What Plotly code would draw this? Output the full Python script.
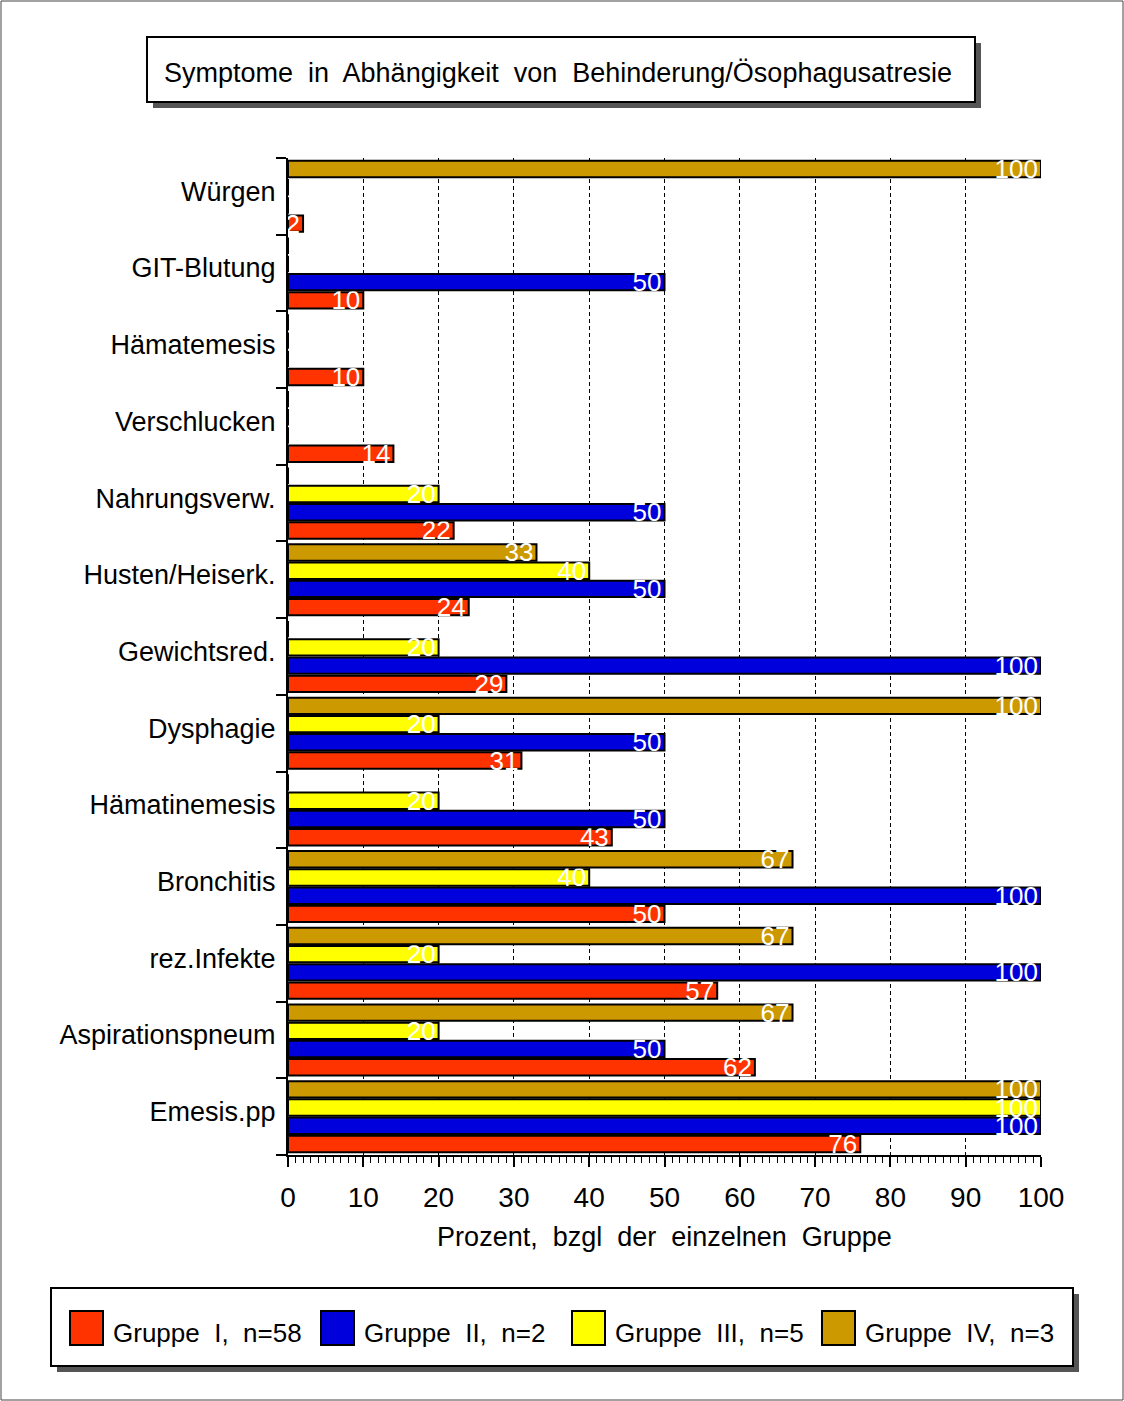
import plotly.graph_objects as go

# Symptom categories, listed bottom-to-top as they appear on the y axis
categories = [
    "Emesis.pp", "Aspirationspneum", "rez.Infekte", "Bronchitis",
    "Hämatinemesis", "Dysphagie", "Gewichtsred.", "Husten/Heiserk.",
    "Nahrungsverw.", "Verschlucken", "Hämatemesis", "GIT-Blutung", "Würgen",
]

# Percent per group (same order as categories)
gruppe_1 = [76, 62, 57, 50, 43, 31, 29, 24, 22, 14, 10, 10, 2]
gruppe_2 = [100, 50, 100, 100, 50, 50, 100, 50, 50, 0, 0, 50, 0]
gruppe_3 = [100, 20, 20, 40, 20, 20, 20, 40, 20, 0, 0, 0, 0]
gruppe_4 = [100, 67, 67, 67, 0, 100, 0, 33, 0, 0, 0, 0, 100]

series_names = ["Gruppe I, n=58", "Gruppe II, n=2", "Gruppe III, n=5", "Gruppe IV, n=3"]
series_values = [gruppe_1, gruppe_2, gruppe_3, gruppe_4]
series_colors = ["#FF3300", "#0000DD", "#FFFF00", "#CC9900"]

x_ticks = [0, 10, 20, 30, 40, 50, 60, 70, 80, 90, 100]

FONT = "Liberation Sans, Arial, Helvetica, sans-serif"

# Page geometry (pixels)
W, H = 1124, 1401
L, R, T, B = 288, 83, 158, 246
PW, PH = W - L - R, H - T - B


def fx(p):
    return (p - L) / PW


def fy(p):
    return (H - B - p) / PH


fig = go.Figure()
for name, vals, col in zip(series_names, series_values, series_colors):
    fig.add_trace(go.Bar(
        y=categories, x=vals, orientation="h", name=name,
        marker=dict(color=col, line=dict(color="black", width=2)),
        text=[str(v) if v > 0 else "" for v in vals],
        textposition="inside", insidetextanchor="end", textangle=0,
        constraintext="none", cliponaxis=True,
        textfont=dict(color="white", size=26, family=FONT),
        showlegend=False,
    ))

shapes = []
annotations = []

# Outer frame
shapes.append(dict(type="rect", xref="paper", yref="paper",
                   x0=fx(1), x1=fx(1123), y0=fy(1400), y1=fy(1),
                   line=dict(color="#444", width=1), fillcolor="rgba(0,0,0,0)"))


def boxed(x0, y0, x1, y1):
    shapes.append(dict(type="rect", xref="paper", yref="paper",
                       x0=fx(x0 + 6), x1=fx(x1 + 6), y0=fy(y1 + 6), y1=fy(y0 + 6),
                       line=dict(width=0), fillcolor="#555555"))
    shapes.append(dict(type="rect", xref="paper", yref="paper",
                       x0=fx(x0), x1=fx(x1), y0=fy(y1), y1=fy(y0),
                       line=dict(color="black", width=2), fillcolor="white"))


# Title box
boxed(147, 37, 975, 102)
annotations.append(dict(xref="paper", yref="paper", x=fx(558), y=fy(73),
                        text="Symptome  in  Abhängigkeit  von  Behinderung/Ösophagusatresie",
                        showarrow=False, xanchor="center", yanchor="middle",
                        font=dict(size=27, color="black", family=FONT)))

# Legend box
boxed(51, 1288, 1073, 1366)
legend_x = [70, 321, 572, 822]
for lx, name, col in zip(legend_x, series_names, series_colors):
    shapes.append(dict(type="rect", xref="paper", yref="paper",
                       x0=fx(lx), x1=fx(lx + 33), y0=fy(1345), y1=fy(1311),
                       line=dict(color="black", width=2), fillcolor=col))
    annotations.append(dict(xref="paper", yref="paper", x=fx(lx + 41), y=fy(1333),
                            text=name.replace(" ", "  "), showarrow=False,
                            xanchor="left", yanchor="middle",
                            font=dict(size=26, color="black", family=FONT)))

fig.update_layout(
    width=W, height=H,
    margin=dict(l=L, r=R, t=T, b=B),
    paper_bgcolor="white", plot_bgcolor="white",
    barmode="group", bargap=0.05, bargroupgap=0.1,
    font=dict(family=FONT, color="black", size=27),
    shapes=shapes, annotations=annotations,
)

fig.update_xaxes(
    range=[0, 100], tickvals=x_ticks, ticktext=[str(t) for t in x_ticks],
    showline=True, linecolor="black", linewidth=2,
    ticks="outside", ticklen=10, tickwidth=2, tickcolor="black",
    ticklabelstandoff=6,
    tickfont=dict(size=28, family=FONT),
    showgrid=True, gridcolor="black", gridwidth=1, griddash="4px,3px",
    minor=dict(dtick=1, ticks="outside", ticklen=6, tickwidth=1,
               tickcolor="black", showgrid=False),
    zeroline=False,
    title=dict(text="Prozent,  bzgl  der  einzelnen  Gruppe",
               font=dict(size=27, family=FONT), standoff=16),
)

fig.update_yaxes(
    type="category", categoryorder="array", categoryarray=categories,
    showline=True, linecolor="black", linewidth=2,
    ticks="outside", ticklen=10, tickwidth=2, tickcolor="black",
    tickson="boundaries", ticklabelstandoff=5, ticklabelshift=-5,
    tickfont=dict(size=27, family=FONT),
    showgrid=False, zeroline=False,
)

fig.write_html("out.html")
